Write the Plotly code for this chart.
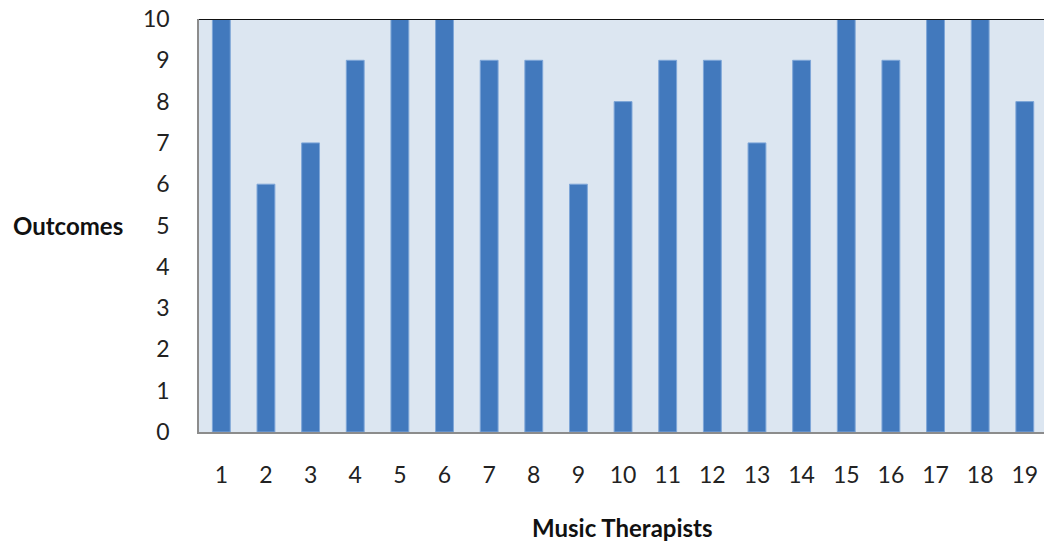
import plotly.graph_objects as go

therapists = [str(i) for i in range(1, 20)]
outcomes = [10, 6, 7, 9, 10, 10, 9, 9, 6, 8, 9, 9, 7, 9, 10, 9, 10, 10, 8]
y_ticks = list(range(0, 11))

FONT = "Lato, Open Sans, sans-serif"

fig = go.Figure(
    go.Bar(
        x=list(range(1, 20)),
        y=outcomes,
        width=0.4,
        marker=dict(color="#4279BD", line=dict(color="#7EA6D8", width=1)),
    )
)

fig.update_layout(
    width=1044,
    height=543,
    margin=dict(l=199, r=0, t=19, b=111),
    paper_bgcolor="white",
    plot_bgcolor="#DCE6F1",
    showlegend=False,
    bargap=0.6,
    font=dict(family=FONT, size=23, color="#222222"),
    xaxis=dict(
        range=[0.5, 19.43],
        tickmode="array",
        tickvals=list(range(1, 20)),
        ticktext=therapists,
        showgrid=False,
        showline=True,
        linecolor="#8C8C8C",
        linewidth=1.5,
        ticks="",
        ticklabelstandoff=22,
        zeroline=False,
    ),
    yaxis=dict(
        range=[0, 10],
        tickmode="array",
        tickvals=y_ticks,
        showgrid=False,
        showline=True,
        linecolor="#8C8C8C",
        linewidth=1.5,
        ticks="",
        ticklabelstandoff=23,
        zeroline=False,
    ),
    shapes=[
        dict(type="line", xref="paper", yref="y", x0=0, x1=1, y0=10, y1=10,
             line=dict(color="#111111", width=2)),
    ],
    annotations=[
        dict(text="<b>Outcomes</b>", xref="paper", yref="paper", x=-199/845, y=0.5,
             xanchor="left", yanchor="middle", showarrow=False,
             font=dict(family=FONT, size=24, color="#111111"), xshift=11),
        dict(text="<b>Music Therapists</b>", xref="paper", yref="paper",
             x=(622.5 - 199) / 845, y=-95/413, xanchor="center", yanchor="middle",
             showarrow=False, font=dict(family=FONT, size=24, color="#111111")),
    ],
)

fig.write_html("out.html")
